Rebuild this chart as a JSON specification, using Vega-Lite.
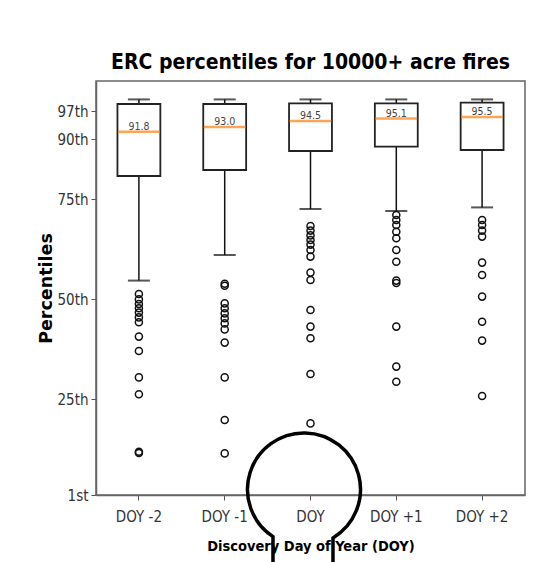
{
  "$schema": "https://vega.github.io/schema/vega-lite/v6.json",
  "autosize": {"type": "none"},
  "width": 429,
  "height": 414,
  "padding": {"left": 96, "top": 81, "right": 34, "bottom": 67},
  "background": "white",
  "title": {
    "text": "ERC percentiles for 10000+ acre fires",
    "font": "DejaVu Sans Condensed, DejaVu Sans",
    "fontSize": 21,
    "fontWeight": "bold",
    "color": "#000",
    "anchor": "middle",
    "offset": 8
  },
  "config": {
    "view": {"stroke": "#666", "strokeWidth": 1.5},
    "axis": {"grid": false}
  },
  "datasets": {
    "boxes": [
      {"day": "DOY -2", "lower": 54.6, "q1": 80.75, "median": 91.8, "q3": 98.75, "upper": 99.9},
      {"day": "DOY -1", "lower": 61.0, "q1": 82.25, "median": 93.0, "q3": 98.75, "upper": 99.9},
      {"day": "DOY", "lower": 72.5, "q1": 87.0, "median": 94.5, "q3": 98.9, "upper": 99.9},
      {"day": "DOY +1", "lower": 72.0, "q1": 88.1, "median": 95.1, "q3": 98.9, "upper": 99.9},
      {"day": "DOY +2", "lower": 72.9, "q1": 87.25, "median": 95.5, "q3": 99.1, "upper": 99.9}
    ],
    "outliers": [
      {"day": "DOY -2", "value": 51.25},
      {"day": "DOY -2", "value": 49.9},
      {"day": "DOY -2", "value": 48.75},
      {"day": "DOY -2", "value": 47.7},
      {"day": "DOY -2", "value": 46.6},
      {"day": "DOY -2", "value": 45.4},
      {"day": "DOY -2", "value": 44.2},
      {"day": "DOY -2", "value": 40.6},
      {"day": "DOY -2", "value": 37.0},
      {"day": "DOY -2", "value": 30.4},
      {"day": "DOY -2", "value": 26.2},
      {"day": "DOY -2", "value": 11.5},
      {"day": "DOY -2", "value": 11.8},
      {"day": "DOY -1", "value": 53.8},
      {"day": "DOY -1", "value": 53.3},
      {"day": "DOY -1", "value": 48.9},
      {"day": "DOY -1", "value": 47.7},
      {"day": "DOY -1", "value": 46.4},
      {"day": "DOY -1", "value": 45.2},
      {"day": "DOY -1", "value": 43.9},
      {"day": "DOY -1", "value": 42.4},
      {"day": "DOY -1", "value": 39.1},
      {"day": "DOY -1", "value": 30.4},
      {"day": "DOY -1", "value": 19.75},
      {"day": "DOY -1", "value": 11.4},
      {"day": "DOY", "value": 68.25},
      {"day": "DOY", "value": 67.1},
      {"day": "DOY", "value": 65.9},
      {"day": "DOY", "value": 64.75},
      {"day": "DOY", "value": 63.6},
      {"day": "DOY", "value": 62.25},
      {"day": "DOY", "value": 60.6},
      {"day": "DOY", "value": 56.6},
      {"day": "DOY", "value": 54.75},
      {"day": "DOY", "value": 47.25},
      {"day": "DOY", "value": 43.1},
      {"day": "DOY", "value": 40.2},
      {"day": "DOY", "value": 31.25},
      {"day": "DOY", "value": 18.9},
      {"day": "DOY +1", "value": 71.0},
      {"day": "DOY +1", "value": 69.75},
      {"day": "DOY +1", "value": 68.5},
      {"day": "DOY +1", "value": 66.8},
      {"day": "DOY +1", "value": 65.2},
      {"day": "DOY +1", "value": 62.25},
      {"day": "DOY +1", "value": 59.3},
      {"day": "DOY +1", "value": 54.6},
      {"day": "DOY +1", "value": 54.0},
      {"day": "DOY +1", "value": 43.1},
      {"day": "DOY +1", "value": 33.1},
      {"day": "DOY +1", "value": 29.3},
      {"day": "DOY +2", "value": 69.75},
      {"day": "DOY +2", "value": 68.5},
      {"day": "DOY +2", "value": 67.1},
      {"day": "DOY +2", "value": 65.6},
      {"day": "DOY +2", "value": 59.1},
      {"day": "DOY +2", "value": 56.0},
      {"day": "DOY +2", "value": 50.6},
      {"day": "DOY +2", "value": 44.3},
      {"day": "DOY +2", "value": 39.6},
      {"day": "DOY +2", "value": 25.75}
    ],
    "marker": [
      {"day": "DOY", "value": 2.4}
    ]
  },
  "encoding": {
    "x": {
      "field": "day",
      "type": "nominal",
      "sort": ["DOY -2", "DOY -1", "DOY", "DOY +1", "DOY +2"],
      "scale": {"type": "band", "paddingInner": 0, "paddingOuter": 0},
      "axis": {
        "title": "Discovery Day of Year (DOY)",
        "titleFont": "DejaVu Sans Condensed, DejaVu Sans",
        "titleFontSize": 14.5,
        "titleFontWeight": "bold",
        "titleColor": "#000",
        "titlePadding": 15,
        "labelFont": "DejaVu Sans Condensed, DejaVu Sans",
        "labelFontSize": 15,
        "labelColor": "#333",
        "labelAngle": 0,
        "labelPadding": 9,
        "tickColor": "#555",
        "tickSize": 5,
        "domainColor": "#666",
        "domainWidth": 1.5
      }
    }
  },
  "layer": [
    {
      "data": {"name": "boxes"},
      "mark": {"type": "rule", "color": "#111", "strokeWidth": 1.5},
      "encoding": {
        "y": {
          "field": "lower",
          "type": "quantitative",
          "scale": {"domain": [1, 104.5], "nice": false, "zero": false},
          "axis": {
            "title": "Percentiles",
            "titleFont": "DejaVu Sans",
            "titleFontSize": 17.5,
            "titleFontWeight": "bold",
            "titleColor": "#000",
            "titlePadding": 1,
            "values": [1, 25, 50, 75, 90, 97],
            "labelExpr": "datum.value == 1 ? '1st' : datum.value + 'th'",
            "labelFont": "DejaVu Sans Condensed, DejaVu Sans",
            "labelFontSize": 15,
            "labelColor": "#333",
            "labelPadding": 3,
            "tickColor": "#555",
            "tickSize": 5,
            "domainColor": "#666",
            "domainWidth": 1.5
          }
        },
        "y2": {"field": "q1"}
      }
    },
    {
      "data": {"name": "boxes"},
      "mark": {"type": "rule", "color": "#111", "strokeWidth": 1.5},
      "encoding": {
        "y": {"field": "q3", "type": "quantitative"},
        "y2": {"field": "upper"}
      }
    },
    {
      "data": {"name": "boxes"},
      "mark": {"type": "tick", "color": "#111", "size": 22, "thickness": 2},
      "encoding": {"y": {"field": "lower", "type": "quantitative"}}
    },
    {
      "data": {"name": "boxes"},
      "mark": {"type": "tick", "color": "#111", "size": 22, "thickness": 2},
      "encoding": {"y": {"field": "upper", "type": "quantitative"}}
    },
    {
      "data": {"name": "boxes"},
      "mark": {"type": "bar", "width": {"band": 0.5}, "fill": "white", "stroke": "#222", "strokeWidth": 1.8},
      "encoding": {
        "y": {"field": "q1", "type": "quantitative"},
        "y2": {"field": "q3"}
      }
    },
    {
      "data": {"name": "boxes"},
      "mark": {"type": "tick", "color": "#ff7f0e", "size": 42, "thickness": 2.5},
      "encoding": {"y": {"field": "median", "type": "quantitative"}}
    },
    {
      "data": {"name": "boxes"},
      "mark": {"type": "text", "baseline": "alphabetic", "dy": -2, "fontSize": 10.5, "font": "DejaVu Sans Condensed, DejaVu Sans", "color": "#444"},
      "encoding": {
        "y": {"field": "median", "type": "quantitative"},
        "text": {"field": "median", "type": "quantitative", "format": ".1f"}
      }
    },
    {
      "data": {"name": "outliers"},
      "mark": {"type": "point", "filled": false, "stroke": "#111", "strokeWidth": 1.5, "size": 50, "opacity": 1},
      "encoding": {"y": {"field": "value", "type": "quantitative"}}
    },
    {
      "data": {"name": "marker"},
      "mark": {
        "type": "point",
        "filled": false,
        "stroke": "#000",
        "strokeWidth": 3.5,
        "opacity": 1,
        "size": 12769,
        "shape": "M -0.664 1.6 L -0.664 0.836 A 1 1 0 1 1 0.398 0.858 L 0.398 1.6"
      },
      "encoding": {"y": {"field": "value", "type": "quantitative"}}
    }
  ]
}
